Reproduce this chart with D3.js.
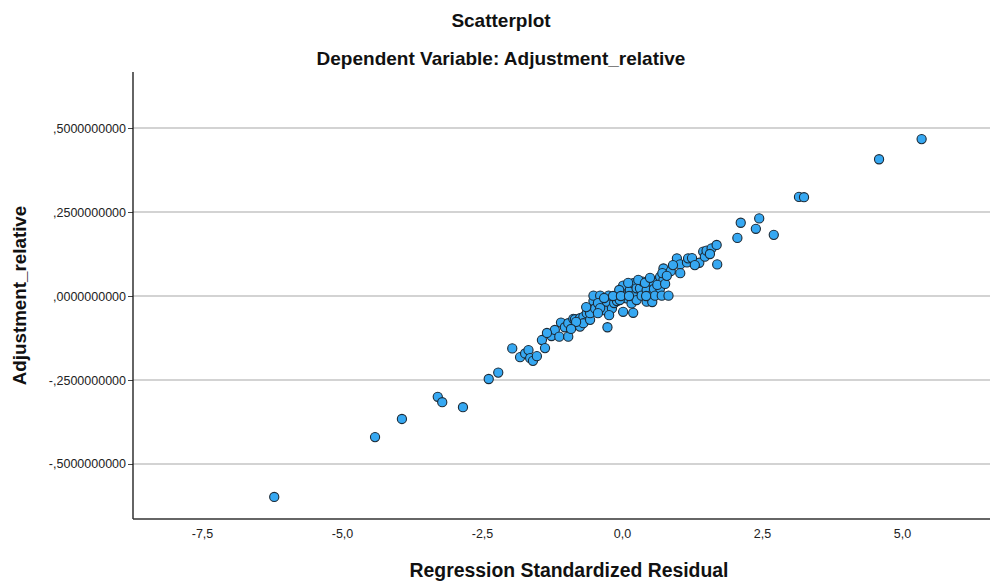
<!DOCTYPE html>
<html>
<head>
<meta charset="utf-8">
<script src="https://cdn.jsdelivr.net/npm/d3@7"></script>
<style>
  html, body { margin: 0; padding: 0; background: #fff; }
  svg { display: block; font-family: "Liberation Sans", Arial, sans-serif; }
</style>
</head>
<body>
<svg id="chart" width="992" height="581"></svg>
<script>
// ---- Data ----
const residuals = [
  -6.21, -4.41, -3.93, -3.29, -3.21, -2.84, -2.38, -2.21, -1.96, -1.82,
  -1.73, -1.67, -1.64, -1.59, -1.52, -1.43, -1.375, -1.26, -1.20, -1.12,
  -1.09, -1.02, -0.96, -0.96, -0.87, -0.84, -0.75, -0.75, -0.69, -0.69,
  -0.63, -0.57, -0.57, -0.51, -0.51, -0.48, -0.39, -0.33, -0.27, -0.26,
  -0.24, -0.18, -0.14, -0.09, -0.09, 0.02, 0.02, 0.05, 0.08, 0.17,
  0.14, 0.20, 0.20, 0.20, 0.26, 0.26, 0.32, 0.35, 0.37, 0.44,
  0.44, 0.50, 0.54, 0.56, 0.57, 0.59, 0.68, 0.68, 0.71, 0.74,
  0.74, 0.72, 0.83, 0.87, 0.98, 1.04, 1.04, 1.16, 1.18, 1.38,
  1.45, 1.48, 1.51, 1.60, 1.69, 1.70, 2.06, 2.12, 2.39, 2.45,
  2.71, 3.16, 3.25, 4.59, 5.35,
  -0.43, -0.39, -0.32, -0.04, -0.05, 0.11, 0.29, 0.41, 0.50, 0.63,
  0.77, 0.80, 0.91, 1.25, 1.30, 1.57, -0.16, -0.02, 0.125, 0.43,
  -0.82, -0.91, -1.34, -0.64, -0.43, -0.23
];
const adjustment = [
  -0.598, -0.420, -0.366, -0.300, -0.316, -0.331, -0.247, -0.228, -0.156, -0.182,
  -0.171, -0.161, -0.185, -0.193, -0.179, -0.131, -0.155, -0.119, -0.101, -0.121,
  -0.079, -0.093, -0.121, -0.081, -0.068, -0.069, -0.066, -0.091, -0.062, -0.081,
  -0.051, -0.071, -0.051, -0.015, 0.001, -0.037, 0.001, -0.042, -0.017, -0.093,
  0.001, -0.037, -0.021, 0.001, -0.015, -0.047, 0.031, 0.001, -0.007, -0.022,
  0.018, -0.050, 0.001, 0.038, -0.012, 0.023, 0.023, 0.001, 0.043, 0.018,
  -0.017, 0.001, -0.018, 0.040, 0.021, 0.001, 0.023, 0.057, 0.001, 0.082,
  0.048, 0.068, 0.001, 0.074, 0.112, 0.094, 0.068, 0.100, 0.112, 0.099,
  0.132, 0.117, 0.135, 0.142, 0.152, 0.094, 0.173, 0.218, 0.200, 0.231,
  0.182, 0.295, 0.294, 0.407, 0.467,
  -0.021, -0.036, -0.006, -0.012, 0.018, 0.039, 0.048, 0.039, 0.054, 0.033,
  0.036, 0.060, 0.092, 0.113, 0.092, 0.125, 0.000, 0.000, 0.000, 0.000,
  -0.077, -0.098, -0.110, -0.033, -0.051, -0.057
];
const xTicks = [-7.5, -5.0, -2.5, 0.0, 2.5, 5.0];
const xTickLabels = ["-7,5", "-5,0", "-2,5", "0,0", "2,5", "5,0"];
const yTicks = [-0.5, -0.25, 0.0, 0.25, 0.5];
const yTickLabels = ["-,5000000000", "-,2500000000", ",0000000000", ",2500000000", ",5000000000"];
const titleText = "Scatterplot";
const subtitleText = "Dependent Variable: Adjustment_relative";
const xLabel = "Regression Standardized Residual";
const yLabel = "Adjustment_relative";

// ---- Layout ----
const plot = { left: 133, right: 990, top: 72, bottom: 519 };
const svg = d3.select("#chart");

const x = d3.scaleLinear().domain([-8.732, 6.571]).range([plot.left, plot.right]);
const y = d3.scaleLinear().domain([-0.6637, 0.6667]).range([plot.bottom, plot.top]);

// gridlines
svg.append("g")
  .selectAll("line")
  .data(yTicks)
  .join("line")
  .attr("x1", plot.left).attr("x2", plot.right)
  .attr("y1", d => y(d)).attr("y2", d => y(d))
  .attr("stroke", "#c4c4c4").attr("stroke-width", 1.3);

// y axis
const yAxis = d3.axisLeft(y)
  .tickValues(yTicks)
  .tickFormat((d, i) => yTickLabels[i])
  .tickSize(5).tickSizeOuter(0).tickPadding(2);
const gy = svg.append("g").attr("transform", `translate(${plot.left},0)`).call(yAxis);
gy.select(".domain").remove();
gy.selectAll(".tick line").attr("stroke", "#444");
gy.selectAll("text").attr("font-size", 12.5).attr("fill", "#222")
  .attr("font-family", "Liberation Sans, Arial, sans-serif");

// x axis
const xAxis = d3.axisBottom(x)
  .tickValues(xTicks)
  .tickFormat((d, i) => xTickLabels[i])
  .tickSize(0).tickSizeOuter(0).tickPadding(10);
const gx = svg.append("g").attr("transform", `translate(0,${plot.bottom})`).call(xAxis);
gx.select(".domain").remove();
gx.selectAll("text").attr("font-size", 12.5).attr("fill", "#222")
  .attr("font-family", "Liberation Sans, Arial, sans-serif");

// axis lines
svg.append("line")
  .attr("x1", plot.left).attr("x2", plot.left)
  .attr("y1", plot.top).attr("y2", plot.bottom)
  .attr("stroke", "#111").attr("stroke-width", 1.3);
svg.append("line")
  .attr("x1", plot.left).attr("x2", plot.right)
  .attr("y1", plot.bottom).attr("y2", plot.bottom)
  .attr("stroke", "#333").attr("stroke-width", 1.6);

// points
const pts = residuals.map((r, i) => ({ r, a: adjustment[i] }));
svg.append("g")
  .selectAll("circle")
  .data(pts)
  .join("circle")
  .attr("cx", d => x(d.r))
  .attr("cy", d => y(d.a))
  .attr("r", 4.6)
  .attr("fill", "#36a8f2")
  .attr("stroke", "#1c2a36")
  .attr("stroke-width", 1.1);

// titles
svg.append("text")
  .attr("x", 501).attr("y", 27)
  .attr("text-anchor", "middle")
  .attr("font-size", 19).attr("font-weight", "bold").attr("fill", "#111")
  .text(titleText);
svg.append("text")
  .attr("x", 501).attr("y", 65)
  .attr("text-anchor", "middle")
  .attr("font-size", 19).attr("font-weight", "bold").attr("fill", "#111")
  .text(subtitleText);
svg.append("text")
  .attr("x", 569).attr("y", 577)
  .attr("text-anchor", "middle")
  .attr("font-size", 19.4).attr("font-weight", "bold").attr("fill", "#111")
  .text(xLabel);
svg.append("text")
  .attr("transform", `translate(26,${(plot.top + plot.bottom) / 2}) rotate(-90)`)
  .attr("text-anchor", "middle")
  .attr("font-size", 18.8).attr("font-weight", "bold").attr("fill", "#111")
  .text(yLabel);
</script>
</body>
</html>
